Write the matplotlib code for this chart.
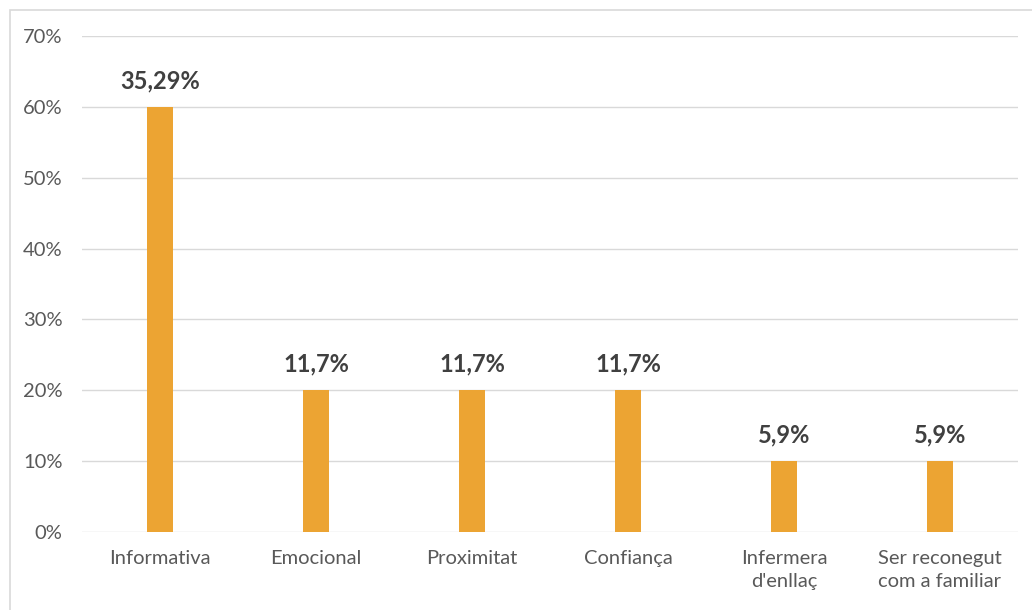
import numpy as np
import matplotlib.pyplot as plt
from matplotlib.patches import Rectangle

categories = ["Informativa", "Emocional", "Proximitat", "Confiança",
              "Infermera\nd'enllaç", "Ser reconegut\ncom a familiar"]
values = [60, 20, 20, 20, 10, 10]
value_labels = ["35,29%", "11,7%", "11,7%", "11,7%", "5,9%", "5,9%"]
yticks = [0, 10, 20, 30, 40, 50, 60, 70]

plt.rcParams['font.family'] = ['Lato', 'DejaVu Sans']

fig = plt.figure(figsize=(10.32, 6.10), dpi=100)
ax = fig.add_axes([0.0795, 0.1279, 0.9069, 0.8131])

# chart area outline
fig.patches.append(Rectangle((10/1032, -0.1), 1.1, (600/610) + 0.1,
                             transform=fig.transFigure, fill=False,
                             edgecolor="#d9d9d9", linewidth=1.2))

x = np.arange(len(categories))
ax.bar(x, values, width=0.17, color="#eca433", zorder=3)

for xi, v, lab in zip(x, values, value_labels):
    ax.annotate(lab, (xi, v), xytext=(0, 10.5), textcoords="offset points",
                ha="center", va="bottom", fontsize=17, fontweight="bold",
                color="#404040")

ax.set_xlim(-0.5, len(categories) - 0.5)
ax.set_ylim(0, 70)
ax.set_yticks(yticks)
ax.set_yticklabels([f"{t}%" for t in yticks], fontsize=14.5, color="#595959")
ax.set_xticks(x)
ax.set_xticklabels(categories, fontsize=14.5, color="#595959",
                   linespacing=1.45, va="top")

ax.grid(axis="y", color="#d9d9d9", linewidth=1, zorder=0)
ax.tick_params(axis="both", length=0)
ax.tick_params(axis="y", pad=14)
ax.tick_params(axis="x", pad=13)
for s in ax.spines.values():
    s.set_visible(False)

plt.savefig("out.png")
